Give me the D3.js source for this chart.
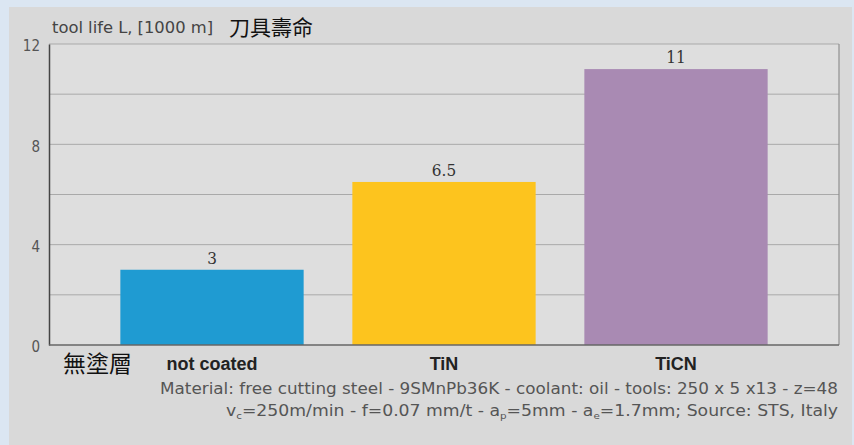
<!DOCTYPE html>
<html>
<head>
<meta charset="utf-8">
<script src="https://cdn.jsdelivr.net/npm/d3@7"></script>
<style>
  html, body { margin: 0; padding: 0; background: #dbe6f2; }
  svg { display: block; }
</style>
</head>
<body>
<svg id="chart" width="854" height="445"></svg>
<script>
// Tool life by coating
const categories = ["not coated", "TiN", "TiCN"];
const values = [3, 6.5, 11];
const valueLabels = ["3", "6.5", "11"];
const barColors = ["#1f9bd2", "#fdc41e", "#a98ab3"];
const yTickValues = [0, 4, 8, 12];
const gridValues = [2, 4, 6, 8, 10, 12];
const yDomain = [0, 12];

const title = "tool life L, [1000 m]";
const titleZh = "刀具壽命";
const categoryZh = "無塗層";
const footer1 = "Material: free cutting steel - 9SMnPb36K - coolant: oil - tools: 250 x 5 x13 - z=48";

const svg = d3.select("#chart");
const narrow = "'Liberation Sans Narrow', 'DejaVu Sans Condensed', 'Liberation Sans', sans-serif";

// gray card
svg.append("rect").attr("x", 9).attr("y", 7).attr("width", 843).attr("height", 438)
  .attr("fill", "#d9d9d9");

const plot = { left: 49, right: 839, top: 44, bottom: 345 };

const y = d3.scaleLinear().domain(yDomain).range([plot.bottom, plot.top]);
const x = d3.scaleBand().domain(categories).range([96, 792])
  .paddingInner(0.21).paddingOuter(0.105);

// plot background
svg.append("rect").attr("x", plot.left).attr("y", plot.top)
  .attr("width", plot.right - plot.left).attr("height", plot.bottom - plot.top)
  .attr("fill", "#dedede");

// gridlines
svg.append("g").selectAll("line").data(gridValues).join("line")
  .attr("x1", plot.left).attr("x2", plot.right)
  .attr("y1", d => y(d)).attr("y2", d => y(d))
  .attr("stroke", "#a9a9a9").attr("stroke-width", 1);

// right frame
svg.append("line").attr("x1", plot.right).attr("x2", plot.right)
  .attr("y1", plot.top).attr("y2", plot.bottom)
  .attr("stroke", "#8f8f8f").attr("stroke-width", 1.2);

// bars
svg.append("g").selectAll("rect").data(values).join("rect")
  .attr("x", (d, i) => x(categories[i]))
  .attr("width", x.bandwidth())
  .attr("y", d => y(d))
  .attr("height", d => y(0) - y(d))
  .attr("fill", (d, i) => barColors[i]);

// value labels
svg.append("g").selectAll("text").data(values).join("text")
  .attr("x", (d, i) => x(categories[i]) + x.bandwidth() / 2)
  .attr("y", d => y(d) - 6)
  .attr("text-anchor", "middle")
  .attr("font-family", "'DejaVu Serif Condensed', 'Liberation Serif', serif")
  .attr("font-size", 17)
  .attr("fill", "#333")
  .text((d, i) => valueLabels[i]);

// y axis
const yAxis = d3.axisLeft(y).tickValues(yTickValues).tickSize(0).tickPadding(9)
  .tickFormat(d3.format("d"));
const gy = svg.append("g").attr("transform", `translate(${plot.left},0)`).call(yAxis);
gy.select(".domain").attr("stroke", "#444").attr("stroke-width", 1.5);
gy.selectAll("text").attr("font-family", narrow).attr("font-size", 15)
  .attr("fill", "#555").attr("dy", "0.45em");

// x baseline
svg.append("line").attr("x1", plot.left).attr("x2", plot.right)
  .attr("y1", y(0)).attr("y2", y(0))
  .attr("stroke", "#666").attr("stroke-width", 1.3);

// category labels
const xAxis = d3.axisBottom(x).tickSize(0).tickPadding(12);
const gx = svg.append("g").attr("transform", `translate(0,${plot.bottom})`).call(xAxis);
gx.select(".domain").remove();
gx.selectAll("text").attr("font-family", "'Liberation Sans', Arial, sans-serif")
  .attr("font-weight", "bold").attr("font-size", 18).attr("fill", "#222");

svg.append("text").attr("x", 63).attr("y", 372)
  .attr("font-family", "'Noto Sans CJK TC', sans-serif").attr("font-size", 23)
  .attr("fill", "#111").text(categoryZh);

// axis title
svg.append("text").attr("x", 52).attr("y", 33)
  .attr("font-family", narrow).attr("font-size", 16).attr("fill", "#444")
  .attr("textLength", 161).attr("lengthAdjust", "spacingAndGlyphs")
  .text(title);
svg.append("text").attr("x", 229).attr("y", 35)
  .attr("font-family", "'Noto Sans CJK TC', sans-serif").attr("font-size", 21)
  .attr("fill", "#111").text(titleZh);

// footnotes
svg.append("text").attr("x", 838).attr("y", 394).attr("text-anchor", "end")
  .attr("font-family", narrow).attr("font-size", 15).attr("fill", "#555")
  .attr("textLength", 678).attr("lengthAdjust", "spacingAndGlyphs")
  .text(footer1);

const f2 = svg.append("text").attr("x", 838).attr("y", 416).attr("text-anchor", "end")
  .attr("font-family", narrow).attr("font-size", 15).attr("fill", "#555")
  .attr("textLength", 612).attr("lengthAdjust", "spacingAndGlyphs");
const parts = [
  ["v", 0], ["c", 1], ["=250m/min - f=0.07 mm/t - a", 0], ["p", 1],
  ["=5mm - a", 0], ["e", 1], ["=1.7mm; Source: STS, Italy", 0]
];
parts.forEach(([t, sub], i) => {
  const s = f2.append("tspan").text(t);
  if (sub) s.attr("font-size", 9).attr("dy", 3);
  else s.attr("dy", i > 0 && parts[i - 1][1] === 1 ? -3 : 0);
});
</script>
</body>
</html>
